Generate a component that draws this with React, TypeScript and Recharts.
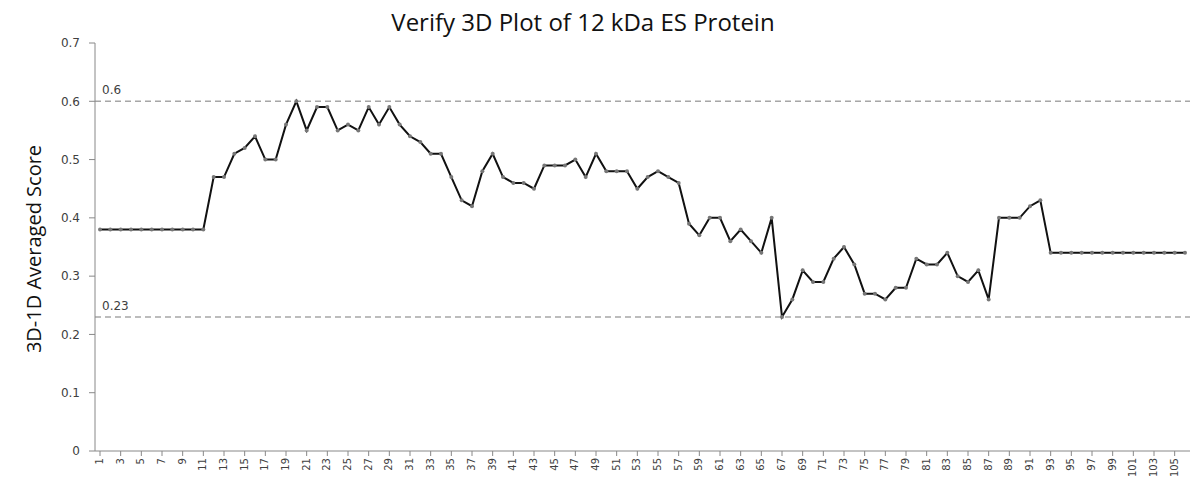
import * as React from "react";
import { LineChart, Line, XAxis, YAxis, ReferenceLine, Label } from "recharts";

// residue positions 1..106 and the averaged 3D-1D score of each
const positions = Array.from({ length: 106 }, (_, i) => String(i + 1));

const scores = [
  0.38, 0.38, 0.38, 0.38, 0.38, 0.38, 0.38, 0.38, 0.38, 0.38,
  0.38, 0.47, 0.47, 0.51, 0.52, 0.54, 0.5, 0.5, 0.56, 0.6,
  0.55, 0.59, 0.59, 0.55, 0.56, 0.55, 0.59, 0.56, 0.59, 0.56,
  0.54, 0.53, 0.51, 0.51, 0.47, 0.43, 0.42, 0.48, 0.51, 0.47,
  0.46, 0.46, 0.45, 0.49, 0.49, 0.49, 0.5, 0.47, 0.51, 0.48,
  0.48, 0.48, 0.45, 0.47, 0.48, 0.47, 0.46, 0.39, 0.37, 0.4,
  0.4, 0.36, 0.38, 0.36, 0.34, 0.4, 0.23, 0.26, 0.31, 0.29,
  0.29, 0.33, 0.35, 0.32, 0.27, 0.27, 0.26, 0.28, 0.28, 0.33,
  0.32, 0.32, 0.34, 0.3, 0.29, 0.31, 0.26, 0.4, 0.4, 0.4,
  0.42, 0.43, 0.34, 0.34, 0.34, 0.34, 0.34, 0.34, 0.34, 0.34,
  0.34, 0.34, 0.34, 0.34, 0.34, 0.34,
];

const yTicks = [0, 0.1, 0.2, 0.3, 0.4, 0.5, 0.6, 0.7];
const upperCut = 0.6;
const lowerCut = 0.23;

const data = positions.map((pos, i) => ({ pos, score: scores[i] }));

const tickStyle = { fontSize: 12, fill: "#404040", fontFamily: "DejaVu Sans" };
const refLabel = { position: "insideBottomLeft", offset: 7, fontSize: 12, fill: "#404040", fontFamily: "DejaVu Sans" };

export default function App() {
  return (
    <div style={{ position: "absolute", left: 0, top: 0, width: 1200, height: 480, background: "#fff" }}>
      <div
        style={{
          position: "absolute",
          top: 6,
          left: 0,
          width: 1166,
          textAlign: "center",
          fontFamily: "Open Sans",
          fontSize: 24,
          lineHeight: "32px",
          color: "#111",
        }}
      >
        Verify 3D Plot of 12 kDa ES Protein
      </div>
      <LineChart
        width={1200}
        height={480}
        data={data}
        margin={{ top: 43, right: 10, left: 0, bottom: 0 }}
      >
        <XAxis
          dataKey="pos"
          interval={1}
          height={29}
          padding={{ left: 5, right: 5 }}
          stroke="#888"
          tickSize={5}
          angle={-90}
          textAnchor="end"
          dx={-4}
          dy={0}
          tick={{ ...tickStyle, fontSize: 10 }}
        />
        <YAxis
          width={95}
          domain={[0, 0.7]}
          ticks={yTicks}
          stroke="#888"
          tickSize={6}
          dx={-7}
          tick={tickStyle}
        >
          <Label
            content={() => (
              <text
                x={33}
                y={249}
                transform="rotate(-90, 33, 249)"
                textAnchor="middle"
                dominantBaseline="central"
                fontFamily="Open Sans"
                fontSize={20}
                fill="#111"
              >
                3D-1D Averaged Score
              </text>
            )}
          />
        </YAxis>
        <ReferenceLine
          y={upperCut}
          stroke="#a6a6a6"
          strokeWidth={1.5}
          strokeDasharray="6 4"
          label={{ value: "0.6", ...refLabel }}
        />
        <ReferenceLine
          y={lowerCut}
          stroke="#a6a6a6"
          strokeWidth={1.5}
          strokeDasharray="6 4"
          label={{ value: "0.23", ...refLabel }}
        />
        <Line
          type="linear"
          dataKey="score"
          stroke="#111"
          strokeWidth={2}
          dot={{ r: 2, fill: "#777", stroke: "none" }}
          activeDot={false}
          isAnimationActive={false}
        />
      </LineChart>
    </div>
  );
}
